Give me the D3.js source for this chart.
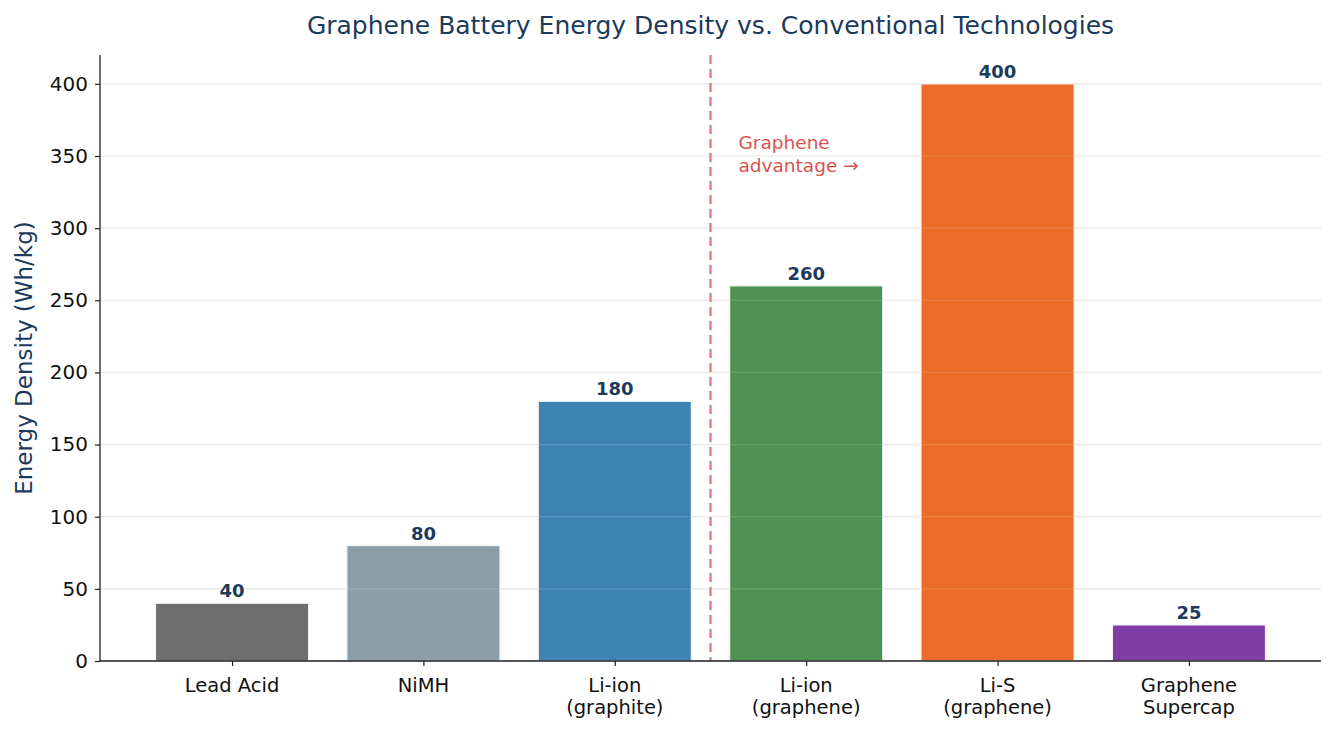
<!DOCTYPE html>
<html>
<head>
<meta charset="utf-8">
<script src="https://cdn.jsdelivr.net/npm/d3@7"></script>
<style>
  body { margin: 0; background: #fff; }
  svg { font-family: "DejaVu Sans", sans-serif; }
</style>
</head>
<body>
<div id="chart"></div>
<script>
// ==================== 数据 ====================
const categories = ["Lead Acid", "NiMH", "Li-ion\n(graphite)", "Li-ion\n(graphene)", "Li-S\n(graphene)", "Graphene\nSupercap"];
const energyDensity = [40, 80, 180, 260, 400, 25];
const barColors = ["#6e6e6e", "#8c9fa9", "#3d84b5", "#4e9153", "#ea6c28", "#803da8"];
const yTicks = [0, 50, 100, 150, 200, 250, 300, 350, 400];

const W = 1335, H = 732;
const margin = {left: 100, right: 14, top: 55, bottom: 71};

const svg = d3.select("#chart").append("svg")
    .attr("width", W)
    .attr("height", H);

// x 按索引线性排布（与 matplotlib 的 bar 位置一致）
const x = d3.scaleLinear()
    .domain([-0.69, categories.length - 1 + 0.69])
    .range([margin.left, W - margin.right]);
const y = d3.scaleLinear()
    .domain([0, 420])
    .range([H - margin.bottom, margin.top]);
const barW = (x(0.8) - x(0));

// 网格线
svg.append("g")
    .selectAll("line")
    .data(yTicks)
    .join("line")
    .attr("x1", margin.left)
    .attr("x2", W - margin.right)
    .attr("y1", d => y(d))
    .attr("y2", d => y(d))
    .attr("stroke", "#e6e6e6")
    .attr("stroke-width", 1.2);

// 柱子
svg.append("g")
    .selectAll("rect")
    .data(energyDensity)
    .join("rect")
    .attr("x", (d, i) => x(i) - barW / 2)
    .attr("y", d => y(d))
    .attr("width", barW)
    .attr("height", d => y(0) - y(d))
    .attr("fill", (d, i) => barColors[i])
    .attr("stroke", "#f2f2f2")
    .attr("stroke-width", 1.2);

// 网格线穿过柱子（淡淡可见）
svg.append("g")
    .selectAll("line")
    .data(yTicks.slice(1))
    .join("line")
    .attr("x1", margin.left)
    .attr("x2", W - margin.right)
    .attr("y1", d => y(d))
    .attr("y2", d => y(d))
    .attr("stroke", "#ffffff")
    .attr("stroke-opacity", 0.12)
    .attr("stroke-width", 1.2);

// 数值标签
svg.append("g")
    .selectAll("text")
    .data(energyDensity)
    .join("text")
    .attr("x", (d, i) => x(i))
    .attr("y", d => y(d) - 6)
    .attr("text-anchor", "middle")
    .style("font-size", "18px")
    .style("font-weight", "bold")
    .style("fill", "#1b3a5c")
    .text(d => d);

// 分隔虚线
svg.append("line")
    .attr("x1", x(2.5)).attr("x2", x(2.5))
    .attr("y1", margin.top).attr("y2", y(0))
    .attr("stroke", "#e57f7f")
    .attr("stroke-width", 2.4)
    .attr("stroke-dasharray", "9,5");

// 注释文字
const note = svg.append("text")
    .attr("x", x(2.5) + 28)
    .attr("y", y(345))
    .style("font-size", "18.5px")
    .style("fill", "#d9534f");
note.append("tspan").attr("x", x(2.5) + 28).attr("dy", "-0.75em").text("Graphene");
note.append("tspan").attr("x", x(2.5) + 28).attr("dy", "1.2em").text("advantage \u2192");

// y 轴
const yAxis = svg.append("g")
    .attr("transform", `translate(${margin.left},0)`)
    .call(d3.axisLeft(y).tickValues(yTicks).tickSize(5).tickPadding(7));
yAxis.select(".domain").attr("d", `M0,${margin.top}V${y(0)}`).attr("stroke", "#222").attr("stroke-width", 1.3);
yAxis.selectAll(".tick line").attr("stroke", "#222").attr("stroke-width", 1.2);
yAxis.selectAll(".tick text").style("font-size", "20px").style("fill", "#111").style("font-family", "DejaVu Sans");

// x 轴
const xAxis = svg.append("g")
    .attr("transform", `translate(0,${y(0)})`)
    .call(d3.axisBottom(x).tickValues(d3.range(categories.length)).tickSize(5).tickFormat(""));
xAxis.select(".domain").attr("d", `M${margin.left},0H${W - margin.right}`).attr("stroke", "#222").attr("stroke-width", 1.3);
xAxis.selectAll(".tick line").attr("stroke", "#222").attr("stroke-width", 1.2);

// x 轴标签（多行）
const xLabels = svg.append("g")
    .selectAll("text")
    .data(categories)
    .join("text")
    .attr("x", (d, i) => x(i))
    .attr("y", y(0) + 31)
    .attr("text-anchor", "middle")
    .style("font-size", "19.5px")
    .style("fill", "#111");
xLabels.each(function(d, i) {
    d.split("\n").forEach((line, k) => {
        d3.select(this).append("tspan")
            .attr("x", x(i))
            .attr("dy", k === 0 ? 0 : "1.13em")
            .text(line);
    });
});

// 标题
svg.append("text")
    .attr("x", (margin.left + W - margin.right) / 2)
    .attr("y", 34)
    .attr("text-anchor", "middle")
    .style("font-size", "25px")
    .style("fill", "#1b3a5c")
    .text("Graphene Battery Energy Density vs. Conventional Technologies");

// y 轴标题
svg.append("text")
    .attr("transform", `translate(32,${(margin.top + y(0)) / 2}) rotate(-90)`)
    .attr("text-anchor", "middle")
    .style("font-size", "23px")
    .style("fill", "#1b3a5c")
    .text("Energy Density (Wh/kg)");
</script>
</body>
</html>
